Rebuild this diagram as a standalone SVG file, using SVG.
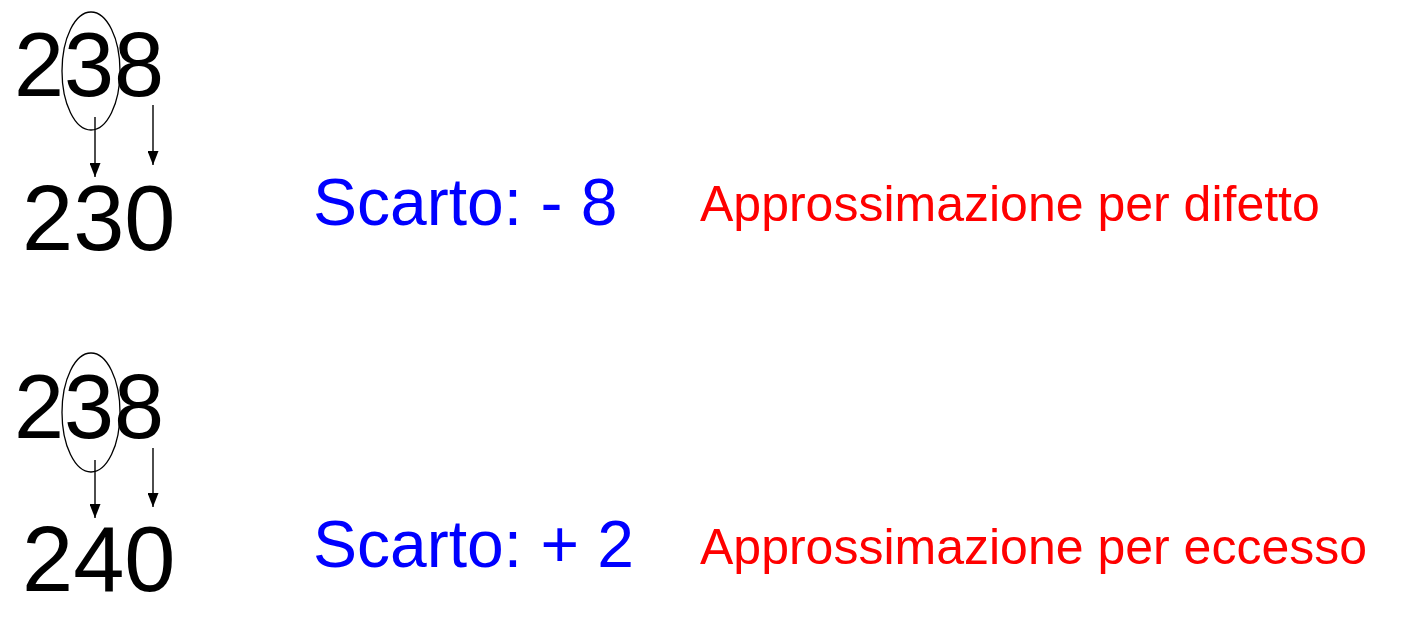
<svg xmlns="http://www.w3.org/2000/svg" width="1420" height="623" viewBox="0 0 1420 623">
<style>
.num{font-family:"Liberation Sans",Arial,sans-serif;fill:#000}
.sc{font-family:"Liberation Sans",Arial,sans-serif;font-size:66px;fill:#0000FF}
.ap{font-family:"Liberation Sans",Arial,sans-serif;font-size:50px;fill:#FF0000}
.ell{fill:none;stroke:#000;stroke-width:1.3}
.ln{stroke:#000;stroke-width:1.4;fill:none}
</style>
<defs>
<marker id="ah" markerUnits="userSpaceOnUse" markerWidth="14" markerHeight="11" refX="14" refY="5.5" orient="auto" viewBox="0 0 14 11">
<path d="M0,0 L14,5.5 L0,11 Z" fill="#000"/>
</marker>
</defs>
<rect width="1420" height="623" fill="#fff"/>
<g id="top-238"><text class="num" x="14" y="96" font-size="90">238</text></g>
<g id="top-ellipse"><ellipse class="ell" cx="91" cy="71" rx="29" ry="59"/></g>
<g id="top-230"><text class="num" x="22" y="250" font-size="92">230</text></g>
<g id="top-scarto"><text class="sc" x="313" y="225">Scarto: - 8</text></g>
<g id="top-approx"><text class="ap" x="700" y="221">Approssimazione per difetto</text></g>
<g id="bot-238"><text class="num" x="14" y="438" font-size="90">238</text></g>
<g id="bot-ellipse"><ellipse class="ell" cx="91" cy="412.5" rx="29" ry="59.5"/></g>
<g id="bot-240"><text class="num" x="22" y="591" font-size="92">240</text></g>
<g id="bot-scarto"><text class="sc" x="313" y="567">Scarto: + 2</text></g>
<g id="bot-approx"><text class="ap" x="700" y="564">Approssimazione per eccesso</text></g>
<g id="connectors">
<line class="ln" x1="95" y1="117" x2="95" y2="177" marker-end="url(#ah)"/>
<line class="ln" x1="153" y1="105" x2="153" y2="165" marker-end="url(#ah)"/>
<line class="ln" x1="95" y1="460" x2="95" y2="518" marker-end="url(#ah)"/>
<line class="ln" x1="153" y1="448" x2="153" y2="507" marker-end="url(#ah)"/>
</g>
</svg>
